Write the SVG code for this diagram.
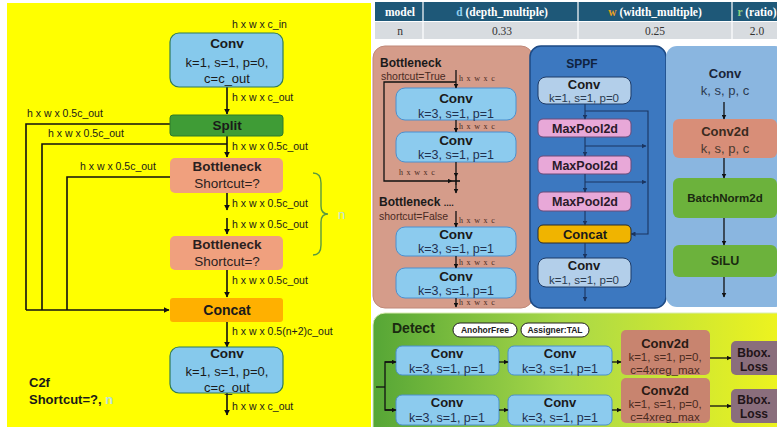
<svg xmlns="http://www.w3.org/2000/svg" width="777" height="427" viewBox="0 0 777 427">
<style>
.s{font-family:"Liberation Sans",Arial,sans-serif}
.b{font-family:"Liberation Sans",Arial,sans-serif;font-weight:bold}
.sr{font-family:"Liberation Serif","Times New Roman",serif}
.lbl{font-family:"Liberation Sans",Arial,sans-serif;font-size:10.5px;fill:#1a1a1a}
.ln{fill:none;stroke:#111;stroke-width:1.6}
.ln2{fill:none;stroke:#111;stroke-width:1.3}
.nv{fill:none;stroke:#1b3560;stroke-width:1.1}
.hw{font-family:"Liberation Serif","Times New Roman",serif;font-size:8px;fill:#4a2a22;letter-spacing:0.8px}
.mid{text-anchor:middle}
</style>
<defs>
<marker id="ah" viewBox="0 0 10 10" refX="9" refY="5" markerWidth="6" markerHeight="6" orient="auto" markerUnits="userSpaceOnUse"><path d="M0,0 L10,5 L0,10 z" fill="#111"/></marker>
<marker id="ahs" viewBox="0 0 10 10" refX="9" refY="5" markerWidth="5" markerHeight="5" orient="auto" markerUnits="userSpaceOnUse"><path d="M0,0 L10,5 L0,10 z" fill="#111"/></marker>
<marker id="ahn" viewBox="0 0 10 10" refX="9" refY="5" markerWidth="5" markerHeight="5" orient="auto" markerUnits="userSpaceOnUse"><path d="M0,0 L10,5 L0,10 z" fill="#1b3560"/></marker>
<linearGradient id="dg" x1="0" y1="0" x2="1" y2="0">
<stop offset="0" stop-color="#56a636"/><stop offset="0.45" stop-color="#a8d848"/><stop offset="1" stop-color="#f2f51c"/>
</linearGradient>
</defs>
<rect x="0" y="0" width="777" height="427" fill="#ffffff"/>
<!-- Left C2f panel -->
<rect x="7" y="3" width="364" height="424" fill="#ffff00"/>
<g id="c2f-connectors">
<line class="ln" x1="227" y1="87" x2="227" y2="114" marker-end="url(#ah)"/>
<line class="ln" x1="227" y1="136" x2="227" y2="157" marker-end="url(#ah)"/>
<line class="ln" x1="227" y1="193" x2="227" y2="210" marker-end="url(#ah)"/>
<line class="ln" x1="227" y1="218" x2="227" y2="234" marker-end="url(#ah)"/>
<line class="ln" x1="227" y1="270" x2="227" y2="297" marker-end="url(#ah)"/>
<line class="ln" x1="227" y1="322" x2="227" y2="347" marker-end="url(#ah)"/>
<line class="ln" x1="227" y1="393" x2="227" y2="415" marker-end="url(#ah)"/>
<polyline class="ln" points="170,124 26,124 26,310"/>
<polyline class="ln" points="227,144 42,144 42,310"/>
<polyline class="ln" points="170,177 67,177 67,310"/>
<line class="ln" x1="26" y1="310" x2="169" y2="310" marker-end="url(#ah)"/>
<path d="M313,173 Q321,173 321,183 L321,206 Q321,214 328,214 Q321,214 321,222 L321,245 Q321,255 313,255" fill="none" stroke="#5a9a40" stroke-width="1.4"/>
</g>
<g id="c2f-labels">
<text class="lbl" x="232" y="28">h x w x c_in</text>
<text class="lbl" x="232" y="101">h x w x c_out</text>
<text class="lbl" x="27" y="117">h x w x 0.5c_out</text>
<text class="lbl" x="48" y="137">h x w x 0.5c_out</text>
<text class="lbl" x="232" y="150">h x w x 0.5c_out</text>
<text class="lbl" x="80" y="170">h x w x 0.5c_out</text>
<text class="lbl" x="232" y="207">h x w x 0.5c_out</text>
<text class="lbl" x="232" y="228">h x w x 0.5c_out</text>
<text class="lbl" x="232" y="284">h x w x 0.5c_out</text>
<text class="lbl" x="232" y="335">h x w x 0.5(n+2)c_out</text>
<text class="lbl" x="232" y="410">h x w x c_out</text>
<text class="s" x="338" y="219" font-size="13" fill="#b6e0e0">n</text>
<text class="b" x="29" y="387" font-size="13" fill="#1a1a1a">C2f</text>
<text class="b" x="29" y="404" font-size="13" fill="#1a1a1a">Shortcut=?, <tspan fill="#b6e0e0">n</tspan></text>
</g>
<g id="c2f-conv1">
<rect x="170" y="33" width="113" height="54" rx="9" fill="#86c9ec" stroke="#2f7a5a" stroke-width="1.2"/>
<text class="b mid" x="227" y="48" font-size="13.5" fill="#1a1a1a">Conv</text>
<text class="s mid" x="227" y="67" font-size="13" fill="#1a1a1a">k=1, s=1, p=0,</text>
<text class="s mid" x="227" y="83" font-size="13" fill="#1a1a1a">c=c_out</text>
</g>
<g id="c2f-split">
<rect x="170" y="115" width="113" height="21" rx="3" fill="#3f9c36" stroke="#2f7a2a" stroke-width="1"/>
<text class="b mid" x="227" y="130" font-size="13.5" fill="#1a1a1a">Split</text>
</g>
<g id="c2f-bottleneck1">
<rect x="170" y="158" width="113" height="35" rx="5" fill="#f0a07e"/>
<text class="b mid" x="227" y="171" font-size="13.5" fill="#2a2020">Bottleneck</text>
<text class="s mid" x="227" y="188" font-size="13.5" fill="#2a2020">Shortcut=?</text>
</g>
<g id="c2f-bottleneck2">
<rect x="170" y="236" width="113" height="34" rx="5" fill="#f0a07e"/>
<text class="b mid" x="227" y="249" font-size="13.5" fill="#2a2020">Bottleneck</text>
<text class="s mid" x="227" y="266" font-size="13.5" fill="#2a2020">Shortcut=?</text>
</g>
<g id="c2f-concat">
<rect x="170" y="298" width="113" height="24" rx="3" fill="#ffb000"/>
<text class="b mid" x="227" y="315" font-size="14" fill="#1a1a1a">Concat</text>
</g>
<g id="c2f-conv2">
<rect x="170" y="347" width="113" height="46" rx="9" fill="#86c9ec" stroke="#2f7a5a" stroke-width="1.2"/>
<text class="b mid" x="227" y="358" font-size="13.5" fill="#1a1a1a">Conv</text>
<text class="s mid" x="227" y="376" font-size="13" fill="#1a1a1a">k=1, s=1, p=0,</text>
<text class="s mid" x="227" y="392" font-size="13" fill="#1a1a1a">c=c_out</text>
</g>
<!-- Table -->
<g id="table">
<rect x="375" y="2" width="402" height="19" fill="#1e5878"/>
<rect x="375" y="22" width="402" height="17" fill="#d8dce0"/>
<line x1="423" y1="2" x2="423" y2="39" stroke="#fff" stroke-width="1.2"/>
<line x1="578" y1="2" x2="578" y2="39" stroke="#fff" stroke-width="1.2"/>
<line x1="732" y1="2" x2="732" y2="39" stroke="#fff" stroke-width="1.2"/>
<text class="sr mid" x="400" y="16" font-size="11.5" font-weight="bold" fill="#fff">model</text>
<text class="sr mid" x="502" y="16" font-size="11.5" font-weight="bold" fill="#fff"><tspan fill="#8fd0f0">d</tspan> (depth_multiple)</text>
<text class="sr mid" x="655" y="16" font-size="11.5" font-weight="bold" fill="#fff"><tspan fill="#e8a020">w</tspan> (width_multiple)</text>
<text class="sr mid" x="757" y="16" font-size="11.5" font-weight="bold" fill="#fff"><tspan fill="#8ed080">r</tspan> (ratio)</text>
<text class="sr mid" x="400" y="35" font-size="11.5" fill="#333">n</text>
<text class="sr mid" x="502" y="35" font-size="11.5" fill="#333">0.33</text>
<text class="sr mid" x="655" y="35" font-size="11.5" fill="#333">0.25</text>
<text class="sr mid" x="757" y="35" font-size="11.5" fill="#333">2.0</text>
</g>
<!-- Bottleneck panel -->
<g id="bottleneck-panel">
<rect x="373" y="46" width="160" height="262" rx="12" fill="#d59c8a" stroke="#c08878" stroke-width="1"/>
<text class="b" x="380" y="67" font-size="12" fill="#1a1a1a">Bottleneck</text>
<text class="s" x="381" y="80" font-size="10.5" fill="#4a2a22">shortcut=True</text>
<text class="b" x="379" y="206" font-size="12" fill="#1a1a1a">Bottleneck <tspan font-size="9">....</tspan></text>
<text class="s" x="379" y="220" font-size="10.5" fill="#4a2a22">shortcut=False</text>
<g id="bn-conv1"><rect x="396" y="88" width="120" height="32" rx="9" fill="#8ccbee" stroke="#4a90d0" stroke-width="1"/>
<text class="b mid" x="456" y="103" font-size="13.5" fill="#1a1a1a">Conv</text><text class="s mid" x="456" y="118" font-size="12.5" fill="#1f3050">k=3, s=1, p=1</text></g>
<g id="bn-conv2"><rect x="396" y="132" width="120" height="30" rx="9" fill="#8ccbee" stroke="#4a90d0" stroke-width="1"/>
<text class="b mid" x="456" y="145" font-size="13.5" fill="#1a1a1a">Conv</text><text class="s mid" x="456" y="159" font-size="12.5" fill="#1f3050">k=3, s=1, p=1</text></g>
<g id="bn-conv3"><rect x="396" y="227" width="120" height="29" rx="9" fill="#8ccbee" stroke="#4a90d0" stroke-width="1"/>
<text class="b mid" x="456" y="239" font-size="13.5" fill="#1a1a1a">Conv</text><text class="s mid" x="456" y="253" font-size="12.5" fill="#1f3050">k=3, s=1, p=1</text></g>
<g id="bn-conv4"><rect x="396" y="268" width="120" height="30" rx="9" fill="#8ccbee" stroke="#4a90d0" stroke-width="1"/>
<text class="b mid" x="456" y="281" font-size="13.5" fill="#1a1a1a">Conv</text><text class="s mid" x="456" y="295" font-size="12.5" fill="#1f3050">k=3, s=1, p=1</text></g>
<g id="bn-connectors">
<line class="ln2" x1="456" y1="70" x2="456" y2="88" marker-end="url(#ahs)"/>
<line class="ln2" x1="456" y1="120" x2="456" y2="132" marker-end="url(#ahs)"/>
<line class="ln2" x1="456" y1="162" x2="456" y2="177" marker-end="url(#ahs)"/>
<polyline class="ln2" points="456,82 384,82 384,181 452,181" marker-end="url(#ahs)"/>
<line x1="452" y1="181" x2="460" y2="181" stroke="#111" stroke-width="1.6"/>
<line x1="456" y1="177" x2="456" y2="185" stroke="#111" stroke-width="1.6"/>
<line class="ln2" x1="456" y1="185" x2="456" y2="193" marker-end="url(#ahs)"/>
<line class="ln2" x1="456" y1="211" x2="456" y2="227" marker-end="url(#ahs)"/>
<line class="ln2" x1="456" y1="256" x2="456" y2="268" marker-end="url(#ahs)"/>
<line class="ln2" x1="456" y1="298" x2="456" y2="307" marker-end="url(#ahs)"/>
</g>
<text class="hw" x="459" y="81">h x w x c</text>
<text class="hw" x="459" y="129">h x w x c</text>
<text class="hw" x="399" y="175">h x w x c</text>
<text class="hw" x="459" y="223">h x w x c</text>
<text class="hw" x="459" y="265">h x w x c</text>
<text class="hw" x="459" y="305">h x w x c</text>
</g>
<!-- SPPF panel -->
<g id="sppf-panel">
<rect x="530" y="46" width="136" height="262" rx="11" fill="#3c78c0" stroke="#1d4a84" stroke-width="1.5"/>
<text class="b mid" x="582" y="68" font-size="12" fill="#10233f">SPPF</text>
<g id="sppf-conv1"><rect x="538" y="77" width="93" height="27" rx="8" fill="#b3cfea" stroke="#1d3a66" stroke-width="1"/>
<text class="b mid" x="584" y="89" font-size="13" fill="#1a1a1a">Conv</text><text class="s mid" x="584" y="102" font-size="11.5" fill="#2a3a50">k=1, s=1, p=0</text></g>
<g id="sppf-mp1"><rect x="538" y="119" width="93" height="18" rx="5" fill="#e8a8d8" stroke="#6a4a78" stroke-width="1"/>
<text class="b mid" x="585" y="132.5" font-size="12.5" fill="#2a1a2a">MaxPool2d</text></g>
<g id="sppf-mp2"><rect x="538" y="156" width="93" height="18" rx="5" fill="#e8a8d8" stroke="#6a4a78" stroke-width="1"/>
<text class="b mid" x="585" y="169.5" font-size="12.5" fill="#2a1a2a">MaxPool2d</text></g>
<g id="sppf-mp3"><rect x="538" y="192" width="93" height="19" rx="5" fill="#e8a8d8" stroke="#6a4a78" stroke-width="1"/>
<text class="b mid" x="585" y="206" font-size="12.5" fill="#2a1a2a">MaxPool2d</text></g>
<g id="sppf-concat"><rect x="538" y="225" width="93" height="18" rx="5" fill="#f0b400" stroke="#2a2a2a" stroke-width="1"/>
<text class="b mid" x="585" y="238.5" font-size="13" fill="#1a1a1a">Concat</text></g>
<g id="sppf-conv2"><rect x="538" y="258" width="93" height="29" rx="8" fill="#b3cfea" stroke="#1d3a66" stroke-width="1"/>
<text class="b mid" x="584" y="270" font-size="13" fill="#1a1a1a">Conv</text><text class="s mid" x="584" y="284" font-size="11.5" fill="#2a3a50">k=1, s=1, p=0</text></g>
<g id="sppf-connectors">
<line class="nv" x1="585" y1="104" x2="585" y2="119" marker-end="url(#ahn)"/>
<line class="nv" x1="585" y1="137" x2="585" y2="156" marker-end="url(#ahn)"/>
<line class="nv" x1="585" y1="174" x2="585" y2="192" marker-end="url(#ahn)"/>
<line class="nv" x1="585" y1="211" x2="585" y2="225" marker-end="url(#ahn)"/>
<line class="nv" x1="585" y1="243" x2="585" y2="258" marker-end="url(#ahn)"/>
<line class="nv" x1="585" y1="287" x2="585" y2="301" marker-end="url(#ahn)"/>
<polyline class="nv" points="585,111 648,111 648,234 631,234" marker-end="url(#ahn)"/>
<line class="nv" x1="585" y1="146" x2="646" y2="146" marker-end="url(#ahn)"/>
<line class="nv" x1="585" y1="182" x2="646" y2="182" marker-end="url(#ahn)"/>
</g>
</g>
<!-- Conv panel -->
<g id="conv-panel">
<rect x="666" y="46" width="120" height="261" rx="11" fill="#8ab6e0"/>
<text class="b mid" x="725" y="78" font-size="13" fill="#1a2538">Conv</text>
<text class="s mid" x="725" y="95" font-size="13" fill="#2a3a50">k, s, p, c</text>
<g id="conv-conv2d"><rect x="673" y="119" width="104" height="39" rx="6" fill="#d88e78"/>
<text class="b mid" x="725" y="136" font-size="13" fill="#3a2a20">Conv2d</text><text class="s mid" x="725" y="153" font-size="13" fill="#4a3a30">k, s, p, c</text></g>
<g id="conv-bn"><rect x="673" y="178" width="104" height="40" rx="6" fill="#6cb23c"/>
<text class="b mid" x="725" y="202" font-size="11.5" fill="#1a2a10">BatchNorm2d</text></g>
<g id="conv-silu"><rect x="673" y="245" width="104" height="32" rx="6" fill="#6cb23c"/>
<text class="b mid" x="725" y="265" font-size="12.5" fill="#1a2a10">SiLU</text></g>
<g id="conv-connectors">
<line class="ln2" x1="724" y1="102" x2="724" y2="119" marker-end="url(#ahs)"/>
<line class="ln2" x1="724" y1="158" x2="724" y2="178" marker-end="url(#ahs)"/>
<line class="ln2" x1="724" y1="218" x2="724" y2="245" marker-end="url(#ahs)"/>
<line class="ln2" x1="724" y1="277" x2="724" y2="297" marker-end="url(#ahs)"/>
</g>
</g>
<!-- Detect panel -->
<g id="detect-panel">
<rect x="373" y="313" width="420" height="130" rx="12" fill="url(#dg)" stroke="#d8ecb0" stroke-width="1"/>
<text class="b" x="392" y="333" font-size="14" fill="#1a2a10">Detect</text>
<g id="pill-anchor"><rect x="453" y="323" width="64" height="14" rx="7" fill="#fff" stroke="#222" stroke-width="1"/>
<text class="b mid" x="485" y="333" font-size="8.5" fill="#222">AnohorFree</text></g>
<g id="pill-assigner"><rect x="521" y="323" width="68" height="14" rx="7" fill="#fff" stroke="#222" stroke-width="1"/>
<text class="b mid" x="555" y="333" font-size="8.5" fill="#222">Assigner:TAL</text></g>
<g id="det-conv-tl"><rect x="396" y="346" width="103" height="29" rx="6" fill="#8ccbee" stroke="#4a90d0" stroke-width="1"/>
<text class="b mid" x="447" y="358" font-size="13" fill="#1a1a1a">Conv</text><text class="s mid" x="447" y="373" font-size="12.5" fill="#1f3050">k=3, s=1, p=1</text></g>
<g id="det-conv-tr"><rect x="508" y="346" width="104" height="29" rx="6" fill="#8ccbee" stroke="#4a90d0" stroke-width="1"/>
<text class="b mid" x="560" y="358" font-size="13" fill="#1a1a1a">Conv</text><text class="s mid" x="560" y="373" font-size="12.5" fill="#1f3050">k=3, s=1, p=1</text></g>
<g id="det-conv-bl"><rect x="396" y="395" width="103" height="30" rx="6" fill="#8ccbee" stroke="#4a90d0" stroke-width="1"/>
<text class="b mid" x="447" y="407" font-size="13" fill="#1a1a1a">Conv</text><text class="s mid" x="447" y="422" font-size="12.5" fill="#1f3050">k=3, s=1, p=1</text></g>
<g id="det-conv-br"><rect x="508" y="395" width="104" height="30" rx="6" fill="#8ccbee" stroke="#4a90d0" stroke-width="1"/>
<text class="b mid" x="560" y="407" font-size="13" fill="#1a1a1a">Conv</text><text class="s mid" x="560" y="422" font-size="12.5" fill="#1f3050">k=3, s=1, p=1</text></g>
<g id="det-conv2d-t"><rect x="621" y="330" width="89" height="45" rx="5" fill="#c8846f"/>
<text class="b mid" x="665" y="348" font-size="13" fill="#2a1a14">Conv2d</text>
<text class="s mid" x="665" y="361" font-size="11.5" fill="#4a2a20">k=1, s=1, p=0,</text>
<text class="s mid" x="665" y="374" font-size="11.5" fill="#4a2a20">c=4xreg_max</text></g>
<g id="det-conv2d-b"><rect x="621" y="378" width="89" height="45" rx="5" fill="#c8846f"/>
<text class="b mid" x="665" y="395" font-size="13" fill="#2a1a14">Conv2d</text>
<text class="s mid" x="665" y="408" font-size="11.5" fill="#4a2a20">k=1, s=1, p=0,</text>
<text class="s mid" x="665" y="421" font-size="11.5" fill="#4a2a20">c=4xreg_max</text></g>
<g id="det-bbox-t"><rect x="731" y="341" width="50" height="34" rx="5" fill="#8a6e7c"/>
<text class="b mid" x="754" y="357" font-size="12" fill="#1f1418">Bbox.</text><text class="b mid" x="754" y="371" font-size="12" fill="#1f1418">Loss</text></g>
<g id="det-bbox-b"><rect x="731" y="389" width="50" height="34" rx="5" fill="#8a6e7c"/>
<text class="b mid" x="754" y="404" font-size="12" fill="#1f1418">Bbox.</text><text class="b mid" x="754" y="418" font-size="12" fill="#1f1418">Loss</text></g>
<g id="det-connectors">
<line class="ln2" x1="376" y1="387" x2="385" y2="387"/>
<polyline class="ln2" points="395,362 385,362 385,410 395,410" fill="none"/>
<line class="ln2" x1="385" y1="362" x2="396" y2="362" marker-end="url(#ahs)"/>
<line class="ln2" x1="385" y1="410" x2="396" y2="410" marker-end="url(#ahs)"/>
<line class="ln2" x1="499" y1="362" x2="508" y2="362" marker-end="url(#ahs)"/>
<line class="ln2" x1="499" y1="410" x2="508" y2="410" marker-end="url(#ahs)"/>
<line class="ln2" x1="612" y1="362" x2="621" y2="362" marker-end="url(#ahs)"/>
<line class="ln2" x1="612" y1="410" x2="621" y2="410" marker-end="url(#ahs)"/>
<line class="ln2" x1="710" y1="358" x2="731" y2="358" marker-end="url(#ahs)"/>
<line class="ln2" x1="710" y1="406" x2="731" y2="406" marker-end="url(#ahs)"/>
</g>
</g>
</svg>
